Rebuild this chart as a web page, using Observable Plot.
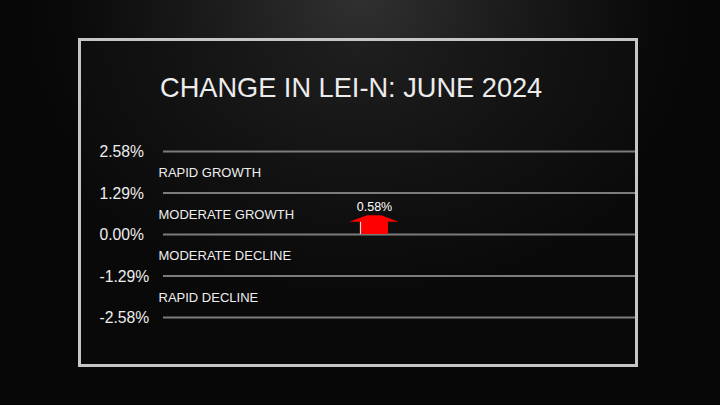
<!DOCTYPE html>
<html><head><meta charset="utf-8">
<script src="https://cdn.jsdelivr.net/npm/d3@7"></script>
<script src="https://cdn.jsdelivr.net/npm/@observablehq/plot@0.6"></script>
<style>
html,body{margin:0;padding:0;background:#070707;}
#stage{position:relative;width:720px;height:405px;overflow:hidden;
  background:radial-gradient(ellipse 340px 300px at 50% 0%, #303030 0%, #1b1b1b 45%, #0a0a0a 85%, #070707 100%);
  font-family:"Liberation Sans",Arial,Helvetica,sans-serif;}
#frame{position:absolute;left:78px;top:38px;width:554px;height:323px;
  border:3px solid #c6c6c6;
  background:radial-gradient(ellipse 360px 260px at 50% 0%, #1f1f1f 0%, #121212 55%, #090909 100%);}
#title{position:absolute;left:160px;top:74px;font-size:27.2px;line-height:27px;color:#ececec;white-space:nowrap;}
#chart{position:absolute;left:0;top:0;}
</style></head>
<body>
<div id="stage">
  <div id="frame"></div>
  <div id="title">CHANGE IN LEI-N: JUNE 2024</div>
  <div id="chart"></div>
</div>
<script>
// ---- data ----
const yTicks = [2.58, 1.29, 0.00, -1.29, -2.58];
const zoneLabels = ["RAPID GROWTH", "MODERATE GROWTH", "MODERATE DECLINE", "RAPID DECLINE"];
const periods = ["JUNE 2024"];
const changes = [0.58];
const periodPos = [0.447]; // position of the period along the panel (0..1)

const zones = d3.pairs(yTicks).map(([a, b], i) => ({label: zoneLabels[i], y: (a + b) / 2}));
const bars = periods.map((p, i) => ({period: p, x: periodPos[i], value: changes[i]}));
const fmt = d => d.toFixed(2) + "%";

function arrowMark(index, scales) {
  const g = d3.create("svg:g");
  for (const b of bars) {
    const cx = scales.x(b.x);
    const y0 = scales.y(0);
    const yt = scales.y(b.value);
    const up = b.value >= 0 ? 1 : -1;
    const hb = yt + up * 6.5;
    const sw = 14, hw = 24.5, tw = 7;
    const pts = [[cx - sw, y0], [cx - sw, hb], [cx - hw, hb], [cx - tw, yt], [cx + tw, yt], [cx + hw, hb], [cx + sw, hb], [cx + sw, y0]];
    g.append("path").attr("d", "M" + pts.map(p => p.join(",")).join("L") + "Z").attr("fill", "#ff0000");
    g.append("line").attr("x1", cx - sw + 0.5).attr("x2", cx - sw + 0.5).attr("y1", hb).attr("y2", y0)
      .attr("stroke", "#d8d8d8").attr("stroke-width", 1.2);
  }
  return g.node();
}

const chart = Plot.plot({
  width: 720,
  height: 405,
  marginLeft: 163,
  marginRight: 85,
  marginTop: 151,
  marginBottom: 88,
  x: {domain: [0, 1], axis: null},
  y: {domain: [-2.58, 2.58], axis: null},
  style: {background: "transparent", color: "#eeeeee", fontFamily: "'Liberation Sans', Arial, sans-serif", overflow: "visible"},
  marks: [
    Plot.ruleY(yTicks, {stroke: "#7c7c7c", strokeWidth: 2}),
    Plot.text(yTicks, {y: d => d, text: fmt, frameAnchor: "left", dx: -64, dy: 0.5, textAnchor: "start", fontSize: 15.7, fill: "#eeeeee"}),
    Plot.text(zones, {y: "y", text: "label", frameAnchor: "left", dx: -5, dy: 0.7, textAnchor: "start", fontSize: 13, fill: "#eeeeee"}),
    arrowMark,
    Plot.text(bars, {x: "x", y: "value", text: d => fmt(d.value), dy: -8.5, fontSize: 12.5, fill: "#ffffff"})
  ]
});
document.getElementById("chart").appendChild(chart);
</script>
</body></html>
